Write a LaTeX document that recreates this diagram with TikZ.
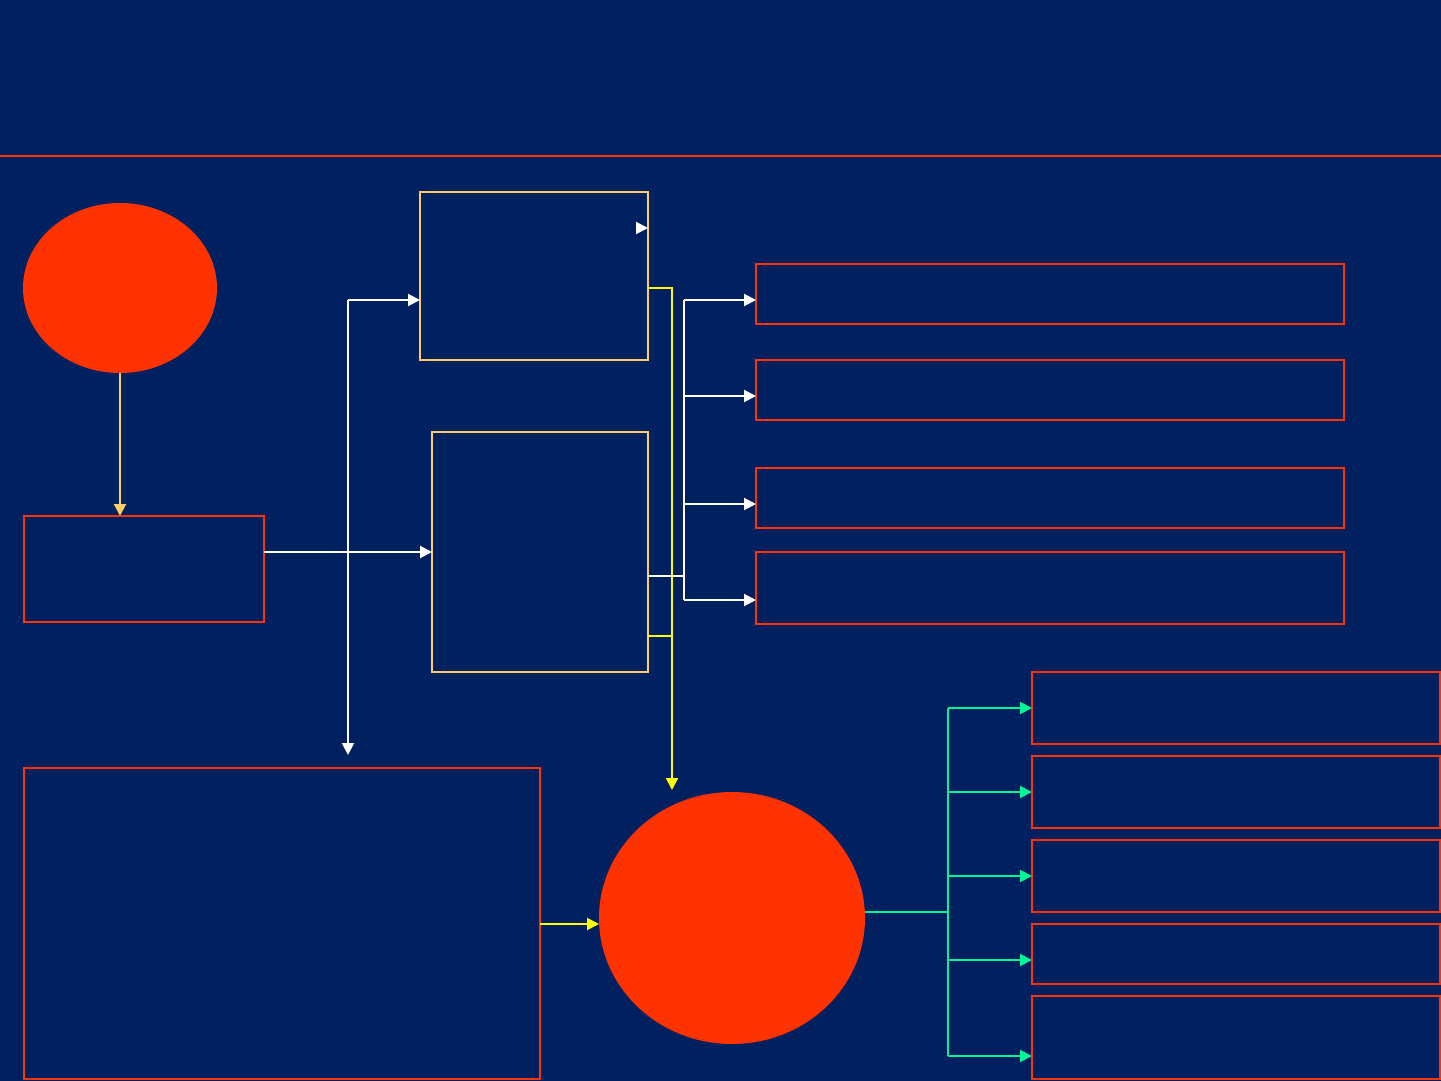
\documentclass[tikz,border=0pt]{standalone}
\usepackage{tikz}
\usetikzlibrary{shapes.geometric, arrows.meta, positioning}
\definecolor{navy}{RGB}{0,32,96}
\definecolor{flame}{RGB}{255,51,0}
\definecolor{sand}{RGB}{255,204,102}
\definecolor{lemon}{RGB}{255,255,0}
\definecolor{mint}{RGB}{0,245,150}
\tikzstyle{redbox} = [rectangle, draw=flame, line width=2pt, inner sep=0pt, outer sep=0pt]
\tikzstyle{sandbox} = [rectangle, draw=sand, line width=2pt, inner sep=0pt, outer sep=0pt]
\tikzstyle{blob} = [ellipse, fill=flame, inner sep=0pt, outer sep=0pt]
\tikzstyle{wline} = [draw=white, line width=2pt]
\tikzstyle{warrow} = [wline, -{Triangle[length=12pt,width=12pt]}]
\tikzstyle{yline} = [draw=lemon, line width=2pt]
\tikzstyle{yarrow} = [yline, -{Triangle[length=12pt,width=12pt]}]
\tikzstyle{sarrow} = [draw=sand, line width=2pt, -{Triangle[length=12pt,width=12pt]}]
\tikzstyle{gline} = [draw=mint, line width=2pt]
\tikzstyle{garrow} = [gline, -{Triangle[length=12pt,width=12pt]}]

\begin{document}
\begin{tikzpicture}[x=1pt, y=-1pt]
        \fill[navy] (0,0) rectangle (1441,1081);
        \useasboundingbox (0,0) rectangle (1441,1081);
        \draw[flame, line width=2pt] (0,156) -- (1441,156);

        \node (dot1) [blob, minimum width=194, minimum height=170] at (120,288) {};
        \node (boxa) [redbox, minimum width=240, minimum height=106] at (144,569) {};
        \node (topbox) [sandbox, minimum width=228, minimum height=168] at (534,276) {};
        \node (midbox) [sandbox, minimum width=216, minimum height=240] at (540,552) {};
        \node (bigbox) [redbox, minimum width=516, minimum height=311] at (282,923.5) {};
        \node (dot2) [blob, minimum width=266, minimum height=252] at (732,918) {};

        \node (r1) [redbox, minimum width=588, minimum height=60] at (1050,294) {};
        \node (r2) [redbox, minimum width=588, minimum height=60] at (1050,390) {};
        \node (r3) [redbox, minimum width=588, minimum height=60] at (1050,498) {};
        \node (r4) [redbox, minimum width=588, minimum height=72] at (1050,588) {};

        \node (g1) [redbox, minimum width=408, minimum height=72] at (1236,708) {};
        \node (g2) [redbox, minimum width=408, minimum height=72] at (1236,792) {};
        \node (g3) [redbox, minimum width=408, minimum height=72] at (1236,876) {};
        \node (g4) [redbox, minimum width=408, minimum height=60] at (1236,954) {};
        \node (g5) [redbox, minimum width=408, minimum height=83] at (1236,1037.5) {};

        \coordinate (split) at (348,300);
        \coordinate (drop) at (348,755);
        \coordinate (stub) at (636,228);
        \coordinate (ybus) at (672,288);
        \coordinate (yjoin) at (672,636);
        \coordinate (yend) at (672,790);
        \coordinate (wjoin) at (684,576);
        \coordinate (wtop) at (684,300);
        \coordinate (wbot) at (684,600);
        \coordinate (gbus) at (948,912);

        \draw [sarrow] (dot1.south) -- (dot1.south |- boxa.north);
        \draw [warrow] (boxa.east |- midbox.west) -- (midbox.west);
        \draw [warrow] (split) -- (split -| topbox.west);
        \draw [warrow] (split) -- (drop);
        \draw [warrow] (stub) -- (stub -| topbox.east);

        \draw [yarrow] (topbox.east |- ybus) -- (ybus) -- (yend);
        \draw [yline] (midbox.east |- yjoin) -- (yjoin);
        \draw [wline] (midbox.east |- wjoin) -- (wjoin);
        \draw [wline] (wtop) -- (wbot);
        \foreach \r/\y in {r1/300, r2/396, r3/504, r4/600}
            \draw [warrow] (684,\y) -- (\r.west |- 0,\y);

        \draw [yarrow] (bigbox.east |- 0,924) -- (dot2.west |- 0,924);
        \draw [gline] (dot2.east |- gbus) -- (gbus);
        \draw [gline] (948,708) -- (948,1056);
        \foreach \g/\y in {g1/708, g2/792, g3/876, g4/960, g5/1056}
            \draw [garrow] (948,\y) -- (\g.west |- 0,\y);
    \end{tikzpicture}
\end{document}
